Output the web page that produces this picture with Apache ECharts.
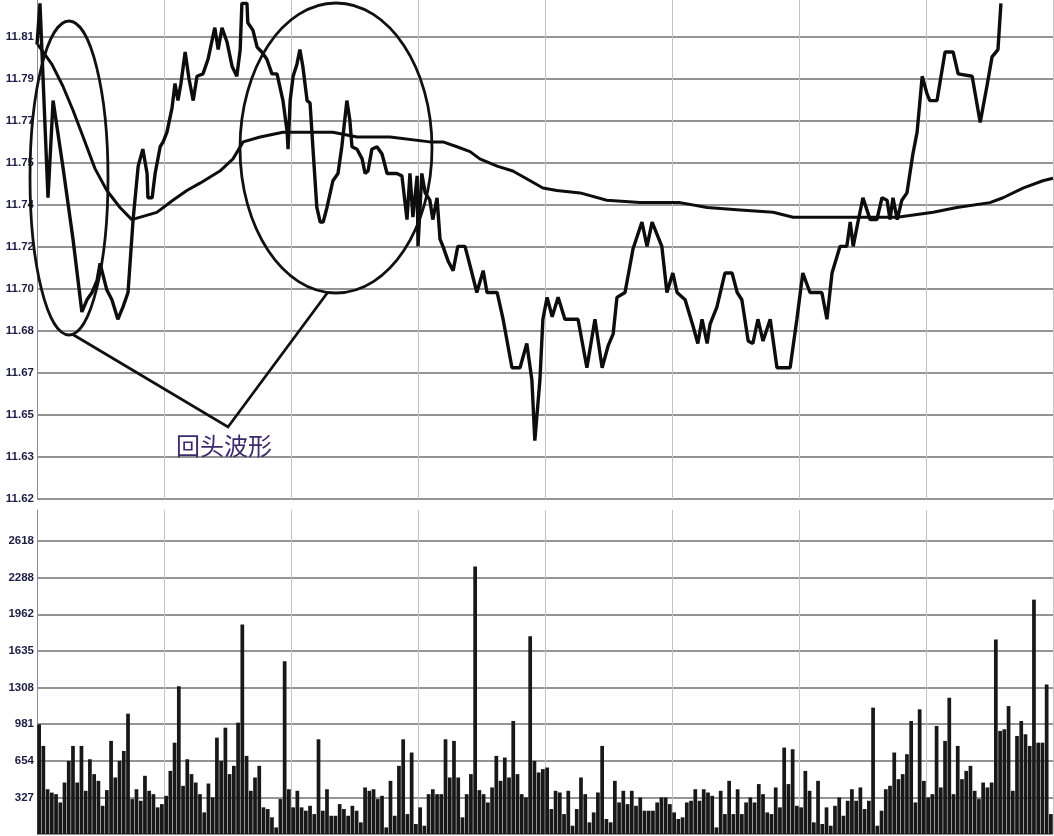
<!DOCTYPE html>
<html>
<head>
<meta charset="utf-8">
<title>回头波形</title>
<script src="https://cdn.jsdelivr.net/npm/echarts@6/dist/echarts.min.js"></script>
<style>
  html, body { margin: 0; padding: 0; background: #fff; }
  #chart { width: 1054px; height: 836px; }
</style>
</head>
<body>
<div id="chart"></div>
<script>
// price axis tick labels, bottom to top
const priceLabels = ['11.62', '11.63', '11.65', '11.67', '11.68', '11.70', '11.72', '11.74', '11.75', '11.77', '11.79', '11.81']
const volumeLabels = ['', '327', '654', '981', '1308', '1635', '1962', '2288', '2618']

// price line, minute of session -> price
const priceMinutes = [
  0, 0.7, 2.6, 3.8, 6.1, 8.5, 10.6, 11.8, 13.0, 14.2, 14.9, 16.5, 17.7, 19.1, 20.3, 21.5,
  22.7, 23.9, 25.0, 26.0, 26.2, 27.2, 27.9, 29.1, 29.8, 30.7, 31.9, 32.6, 33.3, 34.0, 35.0,
  35.9, 36.9, 37.8, 39.2, 40.4, 42.0, 42.8, 43.7, 44.9, 46.1, 47.2, 48.0, 48.4, 49.6, 49.8,
  51.0, 52.0, 53.1, 54.3, 55.5, 56.7, 58.1, 59.1, 59.3, 59.8, 60.5, 61.4, 62.1, 62.8, 63.8,
  64.5, 65.2, 66.1, 66.9, 67.6, 68.5, 69.9, 71.1, 72.0, 73.2, 73.9, 74.4, 75.6, 76.8, 77.5,
  78.2, 79.1, 80.3, 81.5, 82.7, 85.0, 86.2, 87.4, 88.1, 88.8, 89.8, 90.0, 90.9, 91.7, 92.8,
  93.5, 94.5, 95.2, 95.9, 97.1, 98.3, 99.4, 101.1, 102.3, 103.9, 105.4, 106.3, 108.7, 110.1,
  112.2, 114.1, 115.7, 116.9, 117.6, 118.8, 119.5, 120.5, 121.7, 123.1, 124.7, 127.8, 129.9,
  131.8, 133.5, 134.9, 136.1, 137.0, 138.9, 140.8, 142.9, 144.1, 145.3, 147.6, 148.8, 150.2,
  151.2, 153.1, 155.0, 156.1, 157.1, 158.3, 159.0, 160.6, 162.5, 164.2, 165.4, 166.5, 168.0,
  169.1, 170.3, 171.5, 173.2, 174.8, 177.9, 179.5, 180.9, 182.6, 185.4, 186.6, 187.8, 189.7,
  191.3, 192.1, 192.8, 193.7, 195.1, 196.8, 198.4, 199.6, 200.8, 201.5, 202.2, 203.2, 204.3,
  205.5, 206.9, 207.9, 209.1, 210.2, 210.9, 212.6, 214.5, 216.4, 217.6, 220.9, 222.8, 224.4,
  225.6, 227.0, 227.7
]
const priceValues = [
  11.807, 11.824, 11.744, 11.784, 11.757, 11.727, 11.697, 11.702, 11.705, 11.710, 11.717, 11.706, 11.702, 11.694, 11.699, 11.705,
  11.735, 11.757, 11.764, 11.754, 11.744, 11.744, 11.754, 11.765, 11.767, 11.771, 11.781, 11.791, 11.784, 11.791, 11.804,
  11.793, 11.784, 11.794, 11.795, 11.801, 11.814, 11.805, 11.814, 11.808, 11.798, 11.794, 11.805, 11.824, 11.824, 11.816,
  11.813, 11.806, 11.804, 11.801, 11.795, 11.795, 11.784, 11.771, 11.764, 11.784, 11.794, 11.799, 11.805, 11.798, 11.784,
  11.783, 11.764, 11.740, 11.734, 11.734, 11.740, 11.751, 11.754, 11.765, 11.784, 11.776, 11.765, 11.764, 11.760, 11.754,
  11.755, 11.764, 11.765, 11.762, 11.754, 11.754, 11.753, 11.735, 11.754, 11.736, 11.753, 11.724, 11.754, 11.746, 11.743,
  11.735, 11.744, 11.727, 11.724, 11.718, 11.714, 11.724, 11.724, 11.716, 11.705, 11.714, 11.705, 11.705, 11.694,
  11.674, 11.674, 11.684, 11.669, 11.644, 11.669, 11.694, 11.703, 11.695, 11.703, 11.694, 11.694, 11.674,
  11.694, 11.674, 11.683, 11.688, 11.703, 11.705, 11.723, 11.734, 11.724, 11.734, 11.724, 11.705, 11.713,
  11.705, 11.702, 11.691, 11.684, 11.694, 11.684, 11.692, 11.699, 11.713, 11.713, 11.705, 11.702, 11.685,
  11.684, 11.694, 11.685, 11.694, 11.674, 11.674, 11.694, 11.713, 11.705, 11.705, 11.694, 11.713, 11.724,
  11.724, 11.734, 11.724, 11.732, 11.744, 11.735, 11.735, 11.744, 11.743, 11.735, 11.744, 11.735, 11.743,
  11.746, 11.762, 11.771, 11.794, 11.787, 11.784, 11.784, 11.804, 11.804, 11.795, 11.794, 11.775, 11.790,
  11.802, 11.805, 11.824
]

// average price line
const avgMinutes = [
  0.2, 3.5, 6.1, 8.5, 10.9, 13.7, 16.5, 19.6, 22.4, 28.3, 32.1, 35.4, 38.5, 43.2, 46.3, 48.7,
  52.7, 58.1, 62.1, 69.9, 75.6, 83.4, 92.8, 95.9, 99.2, 102.3, 104.6, 108.7, 112.4, 116.5,
  119.5, 122.8, 128.3, 134.6, 142.4, 151.9, 158.3, 166.1, 173.9, 178.6, 185.7, 193.7, 203.2,
  211.7, 217.3, 225.1, 228.2, 232.9, 237.6, 240
]
const avgValues = [
  11.807, 11.799, 11.790, 11.780, 11.769, 11.756, 11.747, 11.740, 11.735, 11.738, 11.743, 11.747, 11.750, 11.755, 11.760, 11.767,
  11.769, 11.771, 11.771, 11.771, 11.769, 11.769, 11.767, 11.767, 11.765, 11.763, 11.760, 11.757, 11.755, 11.751,
  11.748, 11.747, 11.746, 11.743, 11.742, 11.742, 11.740, 11.739, 11.738, 11.736, 11.736, 11.736, 11.736,
  11.738, 11.740, 11.742, 11.744, 11.748, 11.751, 11.752
]

// volume per minute
const volumes = [
  980, 787, 400, 370, 356, 282, 460, 653, 787, 460,
  787, 386, 668, 535, 475, 252, 392, 832, 505, 653,
  742, 1075, 312, 400, 297, 520, 386, 356, 238, 267,
  341, 564, 816, 1321, 430, 668, 535, 460, 356, 193,
  451, 327, 861, 653, 950, 535, 609, 995, 1871, 698,
  386, 505, 609, 238, 223, 149, 59, 312, 1544, 400,
  238, 386, 238, 208, 252, 178, 846, 208, 400, 163,
  163, 267, 223, 163, 252, 208, 104, 416, 386, 400,
  312, 341, 59, 475, 163, 609, 846, 178, 728, 89,
  238, 74, 356, 400, 356, 356, 846, 505, 832, 505,
  149, 356, 535, 2391, 392, 356, 282, 416, 698, 475,
  683, 505, 1010, 535, 356, 327, 1767, 653, 550, 580,
  594, 223, 386, 371, 178, 386, 74, 223, 505, 356,
  104, 193, 371, 787, 134, 104, 475, 282, 386, 267,
  386, 252, 327, 208, 208, 208, 282, 327, 327, 267,
  193, 134, 149, 282, 297, 400, 297, 400, 371, 341,
  59, 386, 178, 475, 178, 400, 178, 282, 327, 282,
  446, 356, 193, 178, 416, 238, 772, 446, 757, 252,
  238, 564, 386, 104, 475, 89, 238, 74, 252, 327,
  163, 297, 400, 297, 416, 223, 297, 1129, 74, 208,
  400, 431, 728, 490, 535, 713, 1010, 282, 1114, 475,
  327, 356, 965, 416, 832, 1218, 356, 787, 490, 564,
  609, 386, 312, 460, 416, 460, 1737, 921, 936, 1143,
  386, 876, 1010, 891, 787, 2094, 816, 816, 1336, 178
]

const PRICE_MIN = 11.62
const PRICE_STEP = 11.62 / 672
const VOL_STEP = 327.25

const chart = echarts.init(document.getElementById('chart'))

const labelStyle = {
  fontFamily: 'Liberation Sans',
  fontSize: 11.5,
  fontWeight: 'bold',
  color: '#1c1c44',
  margin: 3
}
const hLine = { show: true, showMaxLine: false, lineStyle: { color: '#707070', width: 1.6 } }
const vLine = { show: true, lineStyle: { color: '#c2c2cc', width: 1 } }

chart.setOption({
  animation: false,
  backgroundColor: '#ffffff',
  grid: [
    { left: 37, right: 1, top: 0, bottom: 337 },
    { left: 37, right: 1, top: 510, bottom: 2 }
  ],
  xAxis: [
    {
      type: 'value', gridIndex: 0, min: 0, max: 240, interval: 30,
      axisLabel: { show: false }, axisTick: { show: false }, axisLine: { show: false },
      splitLine: vLine
    },
    {
      type: 'value', gridIndex: 1, min: 0, max: 240, interval: 30,
      axisLabel: { show: false }, axisTick: { show: false }, axisLine: { show: false },
      splitLine: vLine
    },
    {
      type: 'category', gridIndex: 1, data: volumes.map((v, i) => i),
      show: false, boundaryGap: true
    }
  ],
  yAxis: [
    {
      type: 'value', gridIndex: 0, min: PRICE_MIN, max: 11.8254, interval: PRICE_STEP,
      axisLine: { show: true, lineStyle: { color: '#8a8a99', width: 1 } },
      axisTick: { show: false },
      axisLabel: Object.assign({}, labelStyle, {
        formatter: v => priceLabels[Math.round((v - PRICE_MIN) / PRICE_STEP)] || ''
      }),
      splitLine: hLine
    },
    {
      type: 'value', gridIndex: 1, min: 0, max: 2895, interval: VOL_STEP,
      axisLine: { show: true, lineStyle: { color: '#8a8a99', width: 1 } },
      axisTick: { show: false },
      axisLabel: Object.assign({}, labelStyle, {
        formatter: v => volumeLabels[Math.round(v / VOL_STEP)] || ''
      }),
      splitLine: hLine
    }
  ],
  series: [
    {
      name: 'avg',
      type: 'line',
      xAxisIndex: 0,
      yAxisIndex: 0,
      data: avgMinutes.map((m, i) => [m, avgValues[i]]),
      showSymbol: false,
      lineStyle: { color: '#0d0d0d', width: 3 },
      z: 3
    },
    {
      name: 'price',
      type: 'line',
      xAxisIndex: 0,
      yAxisIndex: 0,
      data: priceMinutes.map((m, i) => [m, priceValues[i]]),
      showSymbol: false,
      lineStyle: { color: '#0d0d0d', width: 3.4 },
      z: 4
    },
    {
      name: 'volume',
      type: 'bar',
      xAxisIndex: 2,
      yAxisIndex: 1,
      data: volumes,
      barWidth: '88%',
      itemStyle: { color: '#181818' }
    }
  ],
  graphic: [
    {
      type: 'ellipse', z: 10,
      shape: { cx: 69, cy: 178, rx: 39, ry: 157 },
      style: { fill: 'none', stroke: '#111', lineWidth: 2.8 }
    },
    {
      type: 'ellipse', z: 10,
      shape: { cx: 336, cy: 148, rx: 96, ry: 145 },
      style: { fill: 'none', stroke: '#111', lineWidth: 2.8 }
    },
    {
      type: 'polyline', z: 10,
      shape: { points: [[72, 334], [228, 427], [328, 292]] },
      style: { fill: 'none', stroke: '#111', lineWidth: 2.8 }
    },
    {
      type: 'text', z: 10, left: 176, top: 434,
      style: {
        text: '回头波形',
        fontFamily: 'Noto Sans CJK SC',
        fontSize: 24,
        fill: '#3b2b6c'
      }
    }
  ]
})
</script>
</body>
</html>
